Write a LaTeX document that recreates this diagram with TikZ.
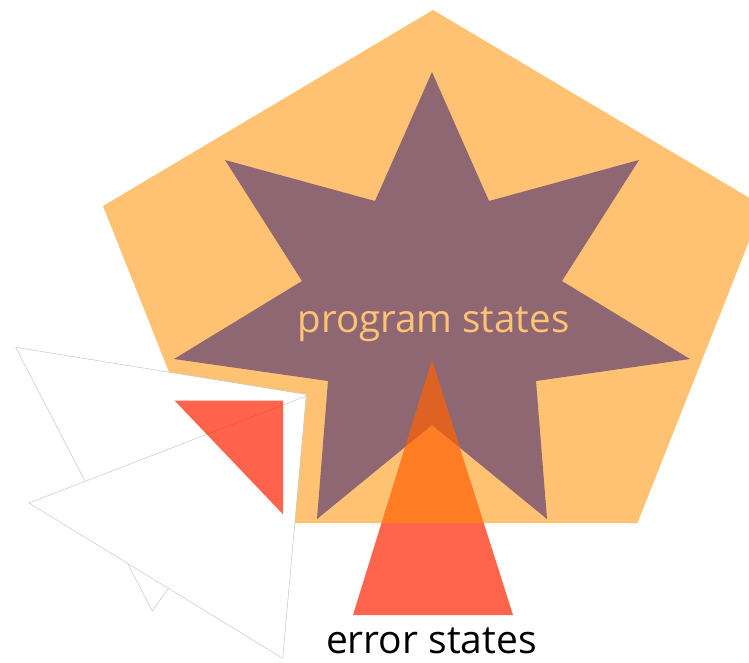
\documentclass[tikz,border=0pt]{standalone}
\usepackage{fontspec}
\newfontfamily\labelfont{Open Sans}
\definecolor{starblue}{RGB}{0,47,255}
\definecolor{pentorange}{RGB}{255,147,5}
\definecolor{errred}{RGB}{255,34,0}
\definecolor{progtext}{RGB}{255,195,117}
\definecolor{edgegray}{RGB}{195,195,195}
\tikzset{
  starshape/.style={fill=starblue},
  pentshape/.style={fill=pentorange, fill opacity=0.56},
  errshape/.style={fill=errred, fill opacity=0.7},
  arrowpart/.style={fill=white, draw=edgegray, line width=0.45pt, line join=miter},
  biglabel/.style={font=\labelfont\fontsize{39}{46}\selectfont, inner sep=0pt, anchor=base}
}
\begin{document}
\begin{tikzpicture}[x=1pt,y=-1pt]
\useasboundingbox (0,0) rectangle (749,662);
\clip (0,0) rectangle (749,662);
% seven-pointed star
\fill[starshape] (432,72) -- (489,201) -- (639,160) -- (562,281) -- (690,359) -- (536,381)
  -- (547,519) -- (432,425) -- (317,519) -- (328,381) -- (174,359) -- (302,281)
  -- (225,160) -- (375,201) -- cycle;
% error triangle
\fill[errshape] (432,360) -- (513,615) -- (353,615) -- cycle;
% pentagon
\fill[pentshape] (433,10) -- (763,206) -- (637.5,523) -- (229,523) -- (103,206) -- cycle;
% program states label
\node[biglabel, text=progtext, font=\labelfont\fontsize{38.5}{46}\selectfont] (prog) at (433.5,332) {program states};
% white arrow shape
\coordinate (tipA) at (306.8,394.5);
\coordinate (tipB) at (306.2,396);
\draw[arrowpart] (15.7,347.3) -- (tipA) -- (152.3,611) -- cycle;
\draw[arrowpart] (29,503) -- (tipB) -- (282.7,658.3) -- cycle;
% small red triangle
\fill[errshape] (174.5,400.5) -- (283.2,400.5) -- (283.2,514.5) -- cycle;
% error states label
\node[biglabel, text=black] (err) at (431.5,653.5) {error states};
\end{tikzpicture}
\end{document}
